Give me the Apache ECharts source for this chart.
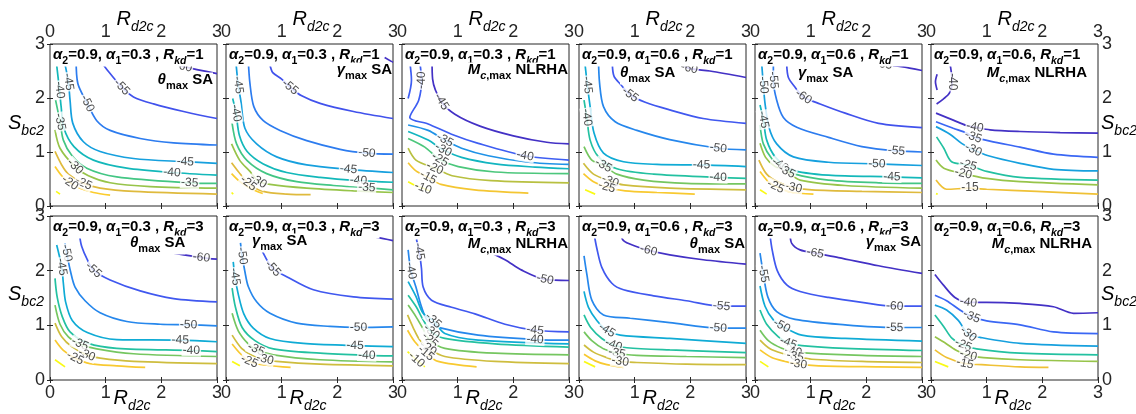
<!DOCTYPE html>
<html>
<head>
<meta charset="utf-8">
<script src="https://cdn.jsdelivr.net/npm/echarts@6/dist/echarts.min.js"></script>
<style>html,body{margin:0;background:#fff}#main{width:1136px;height:414px}</style>
</head>
<body>
<div id="main"></div>
<script>
// each contour: [level, [[Rd2c, Sbc2], ...], [indices of points carrying a label]]
var thetaSA_a3_k1 = [
  [-60, [[2.0,2.70],[2.4,2.58],[3,2.45]], [1]],
  [-55, [[0.90,2.70],[1.05,2.49],[1.29,2.20],[1.50,2.02],[1.86,1.89],[2.40,1.75],[3,1.62]], [2]],
  [-50, [[0.47,2.70],[0.50,2.27],[0.67,1.90],[0.84,1.58],[1.08,1.40],[1.62,1.25],[2.22,1.17],[3,1.13]], [2]],
  [-45, [[0.26,2.67],[0.33,2.30],[0.36,1.96],[0.41,1.53],[0.60,1.19],[0.90,1.01],[1.50,0.88],[2.43,0.82],[3,0.79]], [1,7]],
  [-40, [[0.12,2.61],[0.17,2.15],[0.20,1.84],[0.25,1.44],[0.43,1.10],[0.78,0.85],[1.38,0.70],[2.19,0.62],[3,0.57]], [1,7]],
  [-35, [[0.10,1.96],[0.18,1.56],[0.24,1.22],[0.39,0.94],[0.66,0.70],[1.20,0.54],[2.51,0.43],[3,0.42]], [1,6]],
  [-30, [[0.09,1.41],[0.18,1.07],[0.45,0.73],[0.69,0.56],[1.08,0.43],[1.80,0.36],[3,0.33]], [2]],
  [-25, [[0.09,1.01],[0.21,0.76],[0.33,0.59],[0.60,0.42],[0.90,0.33],[1.50,0.27],[3,0.22]], [3]],
  [-20, [[0.09,0.73],[0.21,0.56],[0.36,0.43],[0.54,0.33],[0.78,0.25],[1.08,0.20]], [2]],
  [-15, [[0.11,0.27],[0.18,0.22]], []]
];
var gammaSA_a3_k1 = [
  [-60, [[2.85,2.75],[3,2.66]], []],
  [-55, [[0.79,2.61],[0.84,2.47],[1.0,2.35],[1.15,2.20],[1.36,2.04],[1.69,1.90],[2.29,1.75],[3,1.62]], [3]],
  [-50, [[0.40,2.70],[0.43,2.27],[0.50,1.84],[0.67,1.58],[0.97,1.40],[1.45,1.21],[2.05,1.05],[2.53,0.98],[3,0.96]], [7]],
  [-45, [[0.18,2.64],[0.22,2.24],[0.27,1.93],[0.34,1.44],[0.55,1.15],[0.91,0.91],[1.45,0.76],[2.20,0.68],[3,0.62]], [1,7]],
  [-40, [[0.12,1.99],[0.18,1.72],[0.24,1.31],[0.38,1.01],[0.67,0.78],[1.09,0.62],[1.69,0.53],[2.38,0.47],[3,0.44]], [1,7]],
  [-35, [[0.11,1.53],[0.19,1.15],[0.38,0.84],[0.73,0.60],[1.27,0.45],[1.93,0.38],[2.53,0.34],[3,0.30]], [6]],
  [-30, [[0.10,1.15],[0.25,0.84],[0.43,0.64],[0.58,0.46],[0.79,0.40],[1.45,0.33],[2.29,0.28],[3,0.25]], [3]],
  [-25, [[0.10,0.80],[0.22,0.64],[0.40,0.42],[0.67,0.27],[1.09,0.22],[1.52,0.21]], [2]],
  [-20, [[0.10,0.60],[0.25,0.45],[0.43,0.33],[0.66,0.23]], []],
  [-15, [[0.10,0.25],[0.13,0.22]], []]
];
var mcNLRHA_a3_k1 = [
  [-45, [[0.54,2.69],[0.55,2.35],[0.71,1.93],[0.95,1.70],[1.4,1.48],[2.0,1.30],[2.6,1.18],[3,1.15]], [2]],
  [-40, [[0.14,2.67],[0.17,2.33],[0.11,1.99]], []],
  [-40, [[0.32,2.67],[0.35,2.33],[0.30,1.96],[0.14,1.64],[0.47,1.52],[0.89,1.33],[1.37,1.16],[2.21,0.93],[3,0.85]], [1,7]],
  [-35, [[0.11,1.50],[0.47,1.40],[0.77,1.22],[1.07,1.07],[1.55,0.93],[2.27,0.81],[3,0.77]], [2]],
  [-30, [[0.11,1.38],[0.47,1.22],[0.74,1.04],[1.07,0.90],[1.67,0.78],[2.39,0.72],[3,0.69]], [2]],
  [-25, [[0.11,1.25],[0.41,1.09],[0.68,0.86],[1.01,0.73],[1.67,0.63],[3,0.60]], [2]],
  [-20, [[0.11,1.07],[0.25,0.85],[0.59,0.70],[0.9,0.56],[1.6,0.47],[3,0.43]], [2]],
  [-15, [[0.11,0.80],[0.25,0.65],[0.47,0.53],[0.7,0.40],[1.3,0.30],[2.27,0.24]], [2]],
  [-10, [[0.11,0.45],[0.22,0.39],[0.38,0.33],[0.5,0.28]], [2]]
];
var thetaSA_a6_k1 = [
  [-60, [[1.84,2.63],[1.98,2.55],[2.35,2.50],[3,2.38]], [1]],
  [-55, [[0.60,2.59],[0.63,2.40],[0.74,2.26],[0.92,2.06],[1.19,1.92],[1.63,1.78],[2.23,1.62],[3,1.53]], [3]],
  [-50, [[0.35,2.70],[0.37,2.27],[0.44,1.84],[0.65,1.56],[1.04,1.40],[1.63,1.23],[2.50,1.07],[3,1.04]], [6]],
  [-45, [[0.11,2.61],[0.15,2.24],[0.20,1.84],[0.27,1.35],[0.44,0.98],[0.80,0.82],[1.40,0.77],[2.2,0.76],[3,0.73]], [1,7]],
  [-40, [[0.09,1.96],[0.14,1.64],[0.20,1.22],[0.35,0.91],[0.68,0.69],[1.34,0.59],[2.50,0.53],[3,0.51]], [1,6]],
  [-35, [[0.09,1.10],[0.23,0.85],[0.44,0.75],[0.68,0.59],[1.16,0.48],[1.93,0.42],[3,0.41]], [2]],
  [-30, [[0.08,0.79],[0.26,0.59],[0.56,0.46],[0.80,0.39],[1.63,0.33],[3,0.30]], [2]],
  [-25, [[0.08,0.60],[0.26,0.45],[0.50,0.35],[0.83,0.28],[1.40,0.25],[2.08,0.22]], [2]],
  [-20, [[0.11,0.30],[0.29,0.22]], []]
];
var gammaSA_a6_k1 = [
  [-65, [[2.10,2.67],[2.31,2.62],[2.63,2.58],[3,2.51]], [1]],
  [-60, [[0.57,2.61],[0.60,2.38],[0.72,2.20],[0.87,2.02],[1.17,1.89],[1.62,1.72],[2.22,1.53],[3,1.45]], [3]],
  [-55, [[0.33,2.64],[0.33,2.33],[0.39,1.96],[0.51,1.64],[0.75,1.46],[1.32,1.27],[1.92,1.10],[2.54,1.02],[3,1.0]], [1,7]],
  [-50, [[0.12,2.64],[0.15,2.24],[0.18,1.90],[0.25,1.46],[0.39,1.15],[0.69,0.91],[1.32,0.81],[2.19,0.78],[3,0.75]], [1,7]],
  [-45, [[0.09,1.87],[0.15,1.60],[0.21,1.22],[0.37,0.90],[0.66,0.67],[1.32,0.57],[2.46,0.54],[3,0.52]], [1,6]],
  [-40, [[0.09,1.50],[0.15,1.15],[0.30,0.88],[0.45,0.76],[0.72,0.59],[1.32,0.48],[2.22,0.43],[3,0.42]], [3]],
  [-35, [[0.09,1.16],[0.19,0.90],[0.36,0.73],[0.57,0.64],[0.81,0.48],[1.62,0.38],[3,0.33]], [3]],
  [-30, [[0.07,0.85],[0.21,0.59],[0.42,0.44],[0.69,0.34],[1.02,0.30],[1.92,0.27],[3,0.25]], [3]],
  [-25, [[0.09,0.64],[0.24,0.45],[0.37,0.36],[0.63,0.26],[1.05,0.22]], [2]],
  [-20, [[0.09,0.30],[0.21,0.22]], []]
];
var mcNLRHA_a6_k1 = [
  [-40, [[0.33,2.70],[0.38,2.30],[0.33,2.09],[0.22,1.98],[0.10,1.89]], [1]],
  [-40, [[0.11,2.44],[0.08,2.30],[0.11,2.15]], []],
  [-40, [[0.09,1.72],[0.40,1.59],[0.64,1.49],[0.79,1.46],[1.06,1.41],[1.60,1.38],[2.32,1.36],[3,1.35]], [3]],
  [-35, [[0.09,1.56],[0.40,1.44],[0.64,1.35],[0.76,1.28],[1.06,1.20],[1.60,1.09],[2.20,0.96],[3,0.90]], [3]],
  [-30, [[0.09,1.47],[0.34,1.33],[0.55,1.16],[0.76,1.04],[1.03,0.93],[1.60,0.79],[2.20,0.68],[3,0.65]], [3]],
  [-25, [[0.10,1.28],[0.23,1.07],[0.37,0.82],[0.67,0.76],[1.0,0.64],[1.60,0.53],[3,0.48]], [3]],
  [-20, [[0.09,0.85],[0.23,0.70],[0.58,0.60],[1.0,0.51],[1.60,0.45],[3,0.39]], [2]],
  [-15, [[0.09,0.48],[0.28,0.31],[0.70,0.33],[1.0,0.31],[1.90,0.27],[3,0.22]], [2]],
  [-10, [[0.09,0.23],[0.12,0.22]], []]
];
var thetaSA_a3_k3 = [
  [-60, [[1.50,2.50],[2.22,2.32],[2.72,2.24],[3,2.21]], [2]],
  [-55, [[0.53,2.65],[0.57,2.44],[0.67,2.20],[0.78,2.01],[1.08,1.83],[1.62,1.63],[2.22,1.49],[3,1.43]], [3]],
  [-50, [[0.27,2.50],[0.30,2.32],[0.37,1.98],[0.45,1.70],[0.63,1.45],[0.90,1.23],[1.38,1.07],[1.98,1.02],[2.49,1.01],[3,0.99]], [1,8]],
  [-45, [[0.12,2.47],[0.21,2.07],[0.24,1.77],[0.28,1.43],[0.40,1.09],[0.67,0.87],[1.20,0.74],[2.34,0.73],[3,0.70]], [1,7]],
  [-40, [[0.09,1.86],[0.13,1.51],[0.22,1.16],[0.36,0.88],[0.69,0.67],[1.20,0.58],[2.54,0.54],[3,0.52]], [6]],
  [-35, [[0.09,1.37],[0.18,1.02],[0.33,0.79],[0.54,0.66],[0.84,0.57],[1.50,0.48],[3,0.43]], [3]],
  [-30, [[0.09,1.04],[0.21,0.79],[0.39,0.61],[0.66,0.46],[0.90,0.40],[1.50,0.34],[3,0.30]], [3]],
  [-25, [[0.09,0.73],[0.24,0.54],[0.45,0.40],[0.72,0.30],[1.20,0.26],[1.71,0.23]], [2]],
  [-20, [[0.09,0.37],[0.27,0.24]], []]
];
var gammaSA_a3_k3 = [
  [-60, [[2.17,2.68],[2.71,2.61],[3,2.55]], []],
  [-55, [[0.54,2.80],[0.56,2.59],[0.64,2.38],[0.84,2.04],[1.09,1.89],[1.57,1.65],[2.29,1.52],[3,1.48]], [3]],
  [-50, [[0.26,2.51],[0.29,2.27],[0.34,1.98],[0.40,1.71],[0.55,1.43],[0.79,1.22],[1.27,1.04],[1.87,0.98],[2.38,0.96],[3,0.97]], [1,8]],
  [-45, [[0.13,2.16],[0.16,1.89],[0.22,1.57],[0.32,1.21],[0.49,0.95],[0.79,0.76],[1.39,0.67],[2.32,0.63],[3,0.61]], [1,7]],
  [-40, [[0.11,1.68],[0.17,1.33],[0.29,0.96],[0.52,0.72],[0.85,0.57],[1.69,0.49],[2.53,0.45],[3,0.44]], [6]],
  [-35, [[0.11,1.22],[0.22,0.90],[0.40,0.66],[0.54,0.56],[0.85,0.46],[1.69,0.37],[3,0.33]], [3]],
  [-30, [[0.11,0.82],[0.28,0.58],[0.49,0.44],[0.70,0.38],[0.91,0.34],[1.69,0.29],[3,0.26]], [3]],
  [-25, [[0.11,0.66],[0.26,0.48],[0.42,0.34],[0.73,0.27],[1.16,0.23]], [2]],
  [-20, [[0.11,0.34],[0.25,0.26]], []]
];
var mcNLRHA_a3_k3 = [
  [-50, [[1.37,2.44],[1.85,2.20],[2.15,2.01],[2.57,1.84],[3,1.82]], [3]],
  [-45, [[0.26,2.57],[0.31,2.35],[0.35,2.04],[0.38,1.70],[0.53,1.46],[0.89,1.33],[1.31,1.21],[1.85,1.02],[2.39,0.91],[3,0.88]], [1,8]],
  [-40, [[0.11,2.38],[0.16,2.0],[0.25,1.70],[0.35,1.34],[0.47,1.07],[0.71,0.95],[1.37,0.82],[2.39,0.74],[3,0.73]], [1,7]],
  [-35, [[0.11,1.80],[0.25,1.53],[0.38,1.22],[0.56,1.09],[0.77,0.85],[1.37,0.73],[3,0.66]], [3]],
  [-30, [[0.11,1.55],[0.26,1.33],[0.38,1.10],[0.53,0.88],[0.77,0.76],[1.67,0.66],[3,0.60]], [3]],
  [-25, [[0.11,1.37],[0.25,1.16],[0.37,0.95],[0.50,0.73],[0.77,0.58],[1.67,0.49],[3,0.46]], [3]],
  [-20, [[0.10,1.19],[0.20,0.96],[0.32,0.73],[0.47,0.58],[0.77,0.43],[1.67,0.34],[3,0.30]], [3]],
  [-15, [[0.10,0.91],[0.23,0.70],[0.43,0.49],[0.65,0.34],[1.34,0.24]], [2]],
  [-10, [[0.10,0.52],[0.26,0.37],[0.41,0.24]], [1]]
];
var thetaSA_a6_k3 = [
  [-60, [[0.74,2.68],[0.80,2.55],[0.98,2.46],[1.25,2.37],[1.63,2.29],[2.23,2.20],[3,2.12]], [3]],
  [-55, [[0.27,2.68],[0.32,2.41],[0.41,2.06],[0.59,1.77],[0.80,1.65],[1.34,1.54],[1.93,1.45],[2.56,1.35],[3,1.35]], [7]],
  [-50, [[0.09,2.27],[0.14,1.94],[0.23,1.46],[0.44,1.19],[0.92,1.13],[1.63,1.05],[2.50,0.95],[3,0.95]], [6]],
  [-45, [[0.09,1.62],[0.17,1.33],[0.32,1.09],[0.50,0.91],[0.74,0.82],[1.63,0.76],[3,0.67]], [3]],
  [-40, [[0.09,1.19],[0.21,0.96],[0.41,0.76],[0.62,0.64],[0.86,0.59],[1.63,0.55],[3,0.50]], [3]],
  [-35, [[0.09,0.88],[0.23,0.72],[0.44,0.57],[0.68,0.49],[1.04,0.45],[1.93,0.43],[3,0.41]], [3]],
  [-30, [[0.09,0.64],[0.26,0.51],[0.50,0.41],[0.74,0.34],[1.04,0.32],[1.93,0.29],[3,0.28]], [3]],
  [-25, [[0.09,0.47],[0.29,0.35],[0.50,0.28],[0.80,0.23]], []],
  [-20, [[0.09,0.34],[0.29,0.24]], []]
];
var gammaSA_a6_k3 = [
  [-65, [[0.63,2.68],[0.66,2.50],[0.81,2.38],[1.08,2.32],[1.50,2.24],[2.22,2.09],[3,1.95]], [3]],
  [-60, [[0.27,2.65],[0.31,2.37],[0.40,2.0],[0.57,1.74],[0.81,1.62],[1.32,1.51],[1.92,1.42],[2.51,1.35],[3,1.35]], [7]],
  [-55, [[0.09,2.32],[0.15,1.94],[0.23,1.52],[0.39,1.25],[0.72,1.11],[1.62,1.01],[2.51,0.96],[3,0.96]], [1,6]],
  [-50, [[0.09,1.72],[0.18,1.35],[0.33,1.10],[0.48,0.99],[0.84,0.82],[1.62,0.76],[3,0.71]], [3]],
  [-45, [[0.09,1.28],[0.21,1.02],[0.42,0.79],[0.60,0.68],[0.84,0.63],[1.62,0.58],[3,0.54]], [3]],
  [-40, [[0.09,0.91],[0.24,0.72],[0.48,0.58],[0.69,0.52],[0.96,0.49],[1.92,0.45],[3,0.43]], [3]],
  [-35, [[0.09,0.73],[0.27,0.57],[0.51,0.48],[0.72,0.43],[1.02,0.38],[1.92,0.34],[3,0.32]], [3]],
  [-30, [[0.09,0.55],[0.30,0.41],[0.54,0.34],[0.78,0.29],[1.14,0.26],[2.22,0.24],[3,0.23]], [3]],
  [-25, [[0.09,0.34],[0.24,0.24]], []]
];
var mcNLRHA_a6_k3 = [
  [-40, [[0.07,1.93],[0.22,1.74],[0.43,1.51],[0.67,1.42],[1.0,1.42],[1.60,1.40],[2.20,1.34],[2.56,1.22],[3,1.23]], [3]],
  [-35, [[0.07,1.55],[0.28,1.45],[0.52,1.28],[0.73,1.16],[1.0,1.08],[1.60,1.01],[2.20,0.88],[3,0.85]], [3]],
  [-30, [[0.07,1.37],[0.28,1.28],[0.49,1.09],[0.67,0.84],[0.88,0.78],[1.60,0.67],[3,0.62]], [3]],
  [-25, [[0.07,1.19],[0.22,0.99],[0.38,0.76],[0.58,0.64],[0.82,0.57],[1.60,0.49],[3,0.46]], [3]],
  [-20, [[0.07,0.79],[0.28,0.66],[0.46,0.54],[0.67,0.45],[0.94,0.41],[1.60,0.37],[3,0.34]], [3]],
  [-15, [[0.07,0.55],[0.28,0.41],[0.61,0.30],[0.91,0.28],[1.60,0.24],[2.11,0.23]], [2]],
  [-10, [[0.07,0.34],[0.31,0.24]], []]
];

var panels = [thetaSA_a3_k1, gammaSA_a3_k1, mcNLRHA_a3_k1, thetaSA_a6_k1, gammaSA_a6_k1, mcNLRHA_a6_k1,
              thetaSA_a3_k3, gammaSA_a3_k3, mcNLRHA_a3_k3, thetaSA_a6_k3, gammaSA_a6_k3, mcNLRHA_a6_k3];
var alpha2 = [0.9, 0.9, 0.9, 0.9, 0.9, 0.9, 0.9, 0.9, 0.9, 0.9, 0.9, 0.9];
var alpha1 = [0.3, 0.3, 0.3, 0.6, 0.6, 0.6, 0.3, 0.3, 0.3, 0.6, 0.6, 0.6];
var rkd = [1, 1, 1, 1, 1, 1, 3, 3, 3, 3, 3, 3];
var response = ['theta', 'gamma', 'mc', 'theta', 'gamma', 'mc', 'theta', 'gamma', 'mc', 'theta', 'gamma', 'mc'];

// layout
var FF = 'Arial, "Liberation Sans", Helvetica, sans-serif';
var GL = [50, 226, 402, 579, 755, 931], GW = 167;
var GT = [44, 216], GH = [162, 164];
// subtitle: side, offset from that side, offset from panel top
var subPos = [['r',4,38],['r',1,28],['r',1,28],['l',41,31],['l',43,31],['r',11,31],
              ['l',80,29],['l',26,27],['r',1,30],['r',1,30],['r',1,28],['r',6,30]];

// parula-like colormap
var PAR = [[62,38,168],[72,60,225],[60,100,245],[35,140,235],[15,170,215],[20,190,175],[80,200,120],[165,195,65],[230,185,60],[252,205,45],[249,250,20]];
function parula(t) {
  t = Math.max(0, Math.min(1, t)) * (PAR.length - 1);
  var i = Math.min(Math.floor(t), PAR.length - 2), f = t - i;
  var c = PAR[i].map(function (v, k) { return Math.round(v + (PAR[i + 1][k] - v) * f); });
  return 'rgb(' + c.join(',') + ')';
}

var boldRich = {
  n: {fontFamily: FF, fontSize: 15, fontWeight: 'bold', color: '#1a1a1a', padding: [0, 0, 4, 0], verticalAlign: 'bottom'},
  i: {fontFamily: FF, fontSize: 15, fontWeight: 'bold', fontStyle: 'italic', color: '#1a1a1a', padding: [0, 0, 4, 0], verticalAlign: 'bottom'},
  s: {fontFamily: FF, fontSize: 10.5, fontWeight: 'bold', color: '#1a1a1a', verticalAlign: 'bottom'},
  si: {fontFamily: FF, fontSize: 10.5, fontWeight: 'bold', fontStyle: 'italic', color: '#1a1a1a', verticalAlign: 'bottom'}
};
var subRich = JSON.parse(JSON.stringify(boldRich));
subRich.s.fontSize = 11; subRich.si.fontSize = 11;
var nameRich = {
  i: {fontFamily: FF, fontSize: 20, fontStyle: 'italic', color: '#262626', padding: [0, 0, 5, 0], verticalAlign: 'bottom'},
  s: {fontFamily: FF, fontSize: 14, fontStyle: 'italic', color: '#262626', verticalAlign: 'bottom'}
};

var grids = [], xAxes = [], yAxes = [], series = [], graphics = [];

panels.forEach(function (contours, k) {
  var row = k < 6 ? 0 : 1, col = k % 6;
  var left = GL[col], top = GT[row], h = GH[row];
  grids.push({left: left, top: top, width: GW, height: h, show: true, borderColor: '#262626', borderWidth: 1, backgroundColor: '#fff'});

  var tickStyle = {show: true, inside: true, length: 3, lineStyle: {color: '#262626'}};
  var lab = {fontFamily: FF, fontSize: 18, color: '#262626', showMinLabel: true, showMaxLabel: true};
  xAxes.push({gridIndex: k, type: 'value', min: 0, max: 3, interval: 1, position: row === 0 ? 'top' : 'bottom',
    axisLine: {show: false}, axisTick: tickStyle, splitLine: {show: false},
    axisLabel: Object.assign({margin: row === 0 ? 3 : 4}, lab)});
  xAxes.push({gridIndex: k, type: 'value', min: 0, max: 3, interval: 1, position: row === 0 ? 'bottom' : 'top',
    axisLine: {show: false}, axisTick: tickStyle, splitLine: {show: false}, axisLabel: {show: false}});
  yAxes.push({gridIndex: k, type: 'value', min: 0, max: 3, interval: 1, position: col === 5 ? 'right' : 'left',
    axisLine: {show: false}, axisTick: tickStyle, splitLine: {show: false},
    axisLabel: Object.assign({show: col === 0 || col === 5, margin: col === 5 ? 4 : 5}, lab)});
  yAxes.push({gridIndex: k, type: 'value', min: 0, max: 3, interval: 1, position: col === 5 ? 'left' : 'right',
    axisLine: {show: false}, axisTick: tickStyle, splitLine: {show: false}, axisLabel: {show: false}});

  var levels = contours.map(function (c) { return c[0]; });
  var lmin = Math.min.apply(null, levels), lmax = Math.max.apply(null, levels);
  var sx = GW / 3, sy = h / 3;
  var labels = [];
  contours.forEach(function (c) {
    var color = parula(0.05 + 0.95 * (c[0] - lmin) / (lmax - lmin));
    series.push({type: 'line', xAxisIndex: 2 * k, yAxisIndex: 2 * k, data: c[1], smooth: 0.3,
      symbol: 'none', silent: true, animation: false, z: 2, lineStyle: {color: color, width: 1.7}});
    c[2].forEach(function (idx) {
      var p = c[1][idx], a = c[1][Math.max(0, idx - 1)], b = c[1][Math.min(c[1].length - 1, idx + 1)];
      var ang = Math.atan2((b[1] - a[1]) * sy, (b[0] - a[0]) * sx) * 180 / Math.PI;
      if (ang > 90) ang -= 180;
      if (ang < -90) ang += 180;
      labels.push({value: p, label: {formatter: String(c[0]), rotate: ang}});
    });
  });
  series.push({type: 'scatter', xAxisIndex: 2 * k, yAxisIndex: 2 * k, data: labels, symbolSize: 1,
    itemStyle: {color: 'rgba(0,0,0,0)'}, silent: true, animation: false, z: 3,
    label: {show: true, position: 'inside', fontFamily: FF, fontSize: 12, color: '#1a1a1a',
      backgroundColor: '#fff', padding: [0, 1]}});

  // panel annotations
  var sep = col === 5 ? ', ' : ' , ';
  var t1 = '{i|α}{s|2}{n|=' + alpha2[k] + ', }{i|α}{s|1}{n|=' + alpha1[k] + sep + '}{i|R}{si|kd}{n|=' + rkd[k] + '}';
  graphics.push({type: 'text', x: left + 3, y: top + 13, z: 10,
    style: {text: t1, rich: boldRich, align: 'left', verticalAlign: 'middle', textAlign: 'left', textVerticalAlign: 'middle', backgroundColor: '#fff'}});
  var t2 = response[k] === 'theta' ? '{i|θ}{s|max}{n| SA}' :
           response[k] === 'gamma' ? '{i|γ}{s|max}{n| SA}' : '{i|M}{si|c}{s|,max}{n| NLRHA}';
  var sp = subPos[k];
  var ax = sp[0] === 'r' ? left + GW - sp[1] : left + sp[1];
  var al = sp[0] === 'r' ? 'right' : 'left';
  graphics.push({type: 'text', x: ax, y: top + sp[2], z: 10,
    style: {text: t2, rich: subRich, align: al, verticalAlign: 'middle', textAlign: al, textVerticalAlign: 'middle', backgroundColor: '#fff'}});

  // axis names
  graphics.push({type: 'text', x: left + (row === 0 ? 85 : 82), y: row === 0 ? 22 : 401, z: 10,
    style: {text: '{i|R}{s|d2c}', rich: nameRich, align: 'center', verticalAlign: 'middle', textAlign: 'center', textVerticalAlign: 'middle'}});
  if (col === 0 || col === 5) {
    graphics.push({type: 'text', x: col === 0 ? 8 : 1101, y: row === 0 ? 126 : 297, z: 10,
      style: {text: '{i|S}{s|bc2}', rich: nameRich, align: 'left', verticalAlign: 'middle', textAlign: 'left', textVerticalAlign: 'middle'}});
  }
});

var chart = echarts.init(document.getElementById('main'));
chart.setOption({
  animation: false,
  backgroundColor: '#fff',
  grid: grids,
  xAxis: xAxes,
  yAxis: yAxes,
  series: series,
  graphic: {elements: graphics}
});
</script>
</body>
</html>
